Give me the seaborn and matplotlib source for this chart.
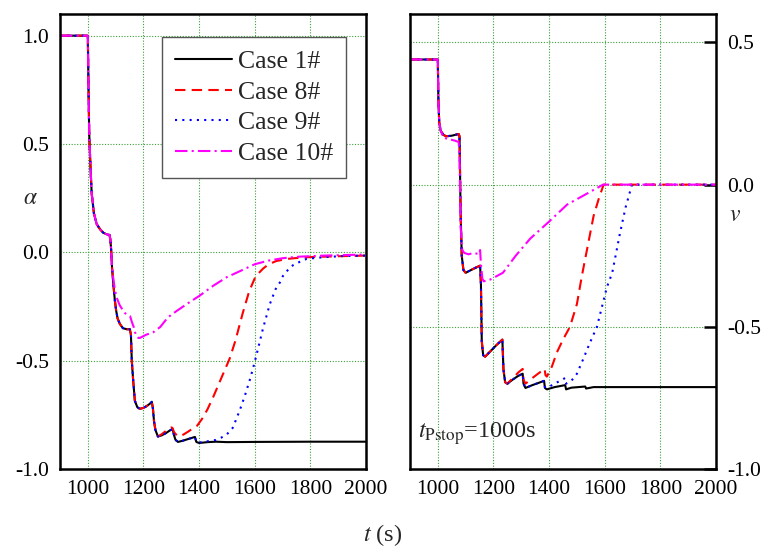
import matplotlib
matplotlib.use("Agg")
import matplotlib.pyplot as plt
import seaborn as sns
import pandas as pd

# ---- time axis and case data -------------------------------------------------
# alpha(t), left panel
t_a1 = [900, 1000, 1002, 1005, 1010, 1014, 1022, 1032, 1045, 1056, 1068, 1078,
        1081, 1084, 1087, 1092, 1097, 1102, 1107, 1115, 1126, 1140, 1151,
        1155, 1158, 1163, 1169, 1178, 1187, 1200, 1211, 1222, 1230,
        1234, 1238, 1243, 1252, 1265, 1280, 1295, 1305,
        1309, 1315, 1324, 1340, 1360, 1385,
        1390, 1400, 1430, 1460, 1500, 1600, 1800, 2000]
a_case1 = [1.0, 1.0, 0.80, 0.55, 0.38, 0.27, 0.18, 0.13, 0.105, 0.09, 0.083, 0.08,
           0.06, 0.01, -0.07, -0.15, -0.22, -0.27, -0.305, -0.33, -0.35, -0.355, -0.355,
           -0.38, -0.50, -0.59, -0.685, -0.715, -0.722, -0.718, -0.71, -0.70, -0.69,
           -0.72, -0.78, -0.82, -0.85, -0.845, -0.835, -0.822, -0.815,
           -0.84, -0.865, -0.875, -0.87, -0.862, -0.852,
           -0.875, -0.88, -0.876, -0.874, -0.876, -0.875, -0.874, -0.874]

t_a8 = [1252, 1265, 1280, 1290, 1300, 1304, 1310, 1320, 1330, 1345, 1360, 1375, 1393,
        1410, 1430, 1450, 1470, 1490, 1510, 1530, 1557, 1580, 1600, 1615, 1630,
        1650, 1678, 1720, 1760, 1800, 1900, 2000]
a_case8 = [-0.85, -0.84, -0.825, -0.815, -0.808, -0.81, -0.83, -0.845, -0.85, -0.84,
           -0.828, -0.815, -0.80, -0.77, -0.725, -0.67, -0.61, -0.55, -0.49, -0.41,
           -0.28, -0.18, -0.12, -0.095, -0.075, -0.055, -0.04, -0.03, -0.025, -0.022,
           -0.018, -0.015]

t_a9 = [1390, 1400, 1430, 1460, 1480, 1500, 1521, 1546, 1565, 1582, 1595, 1607,
        1630, 1654, 1675, 1690, 1701, 1720, 1737, 1760, 1787, 1850, 1920, 2000]
a_case9 = [-0.875, -0.878, -0.872, -0.866, -0.855, -0.84, -0.81, -0.73, -0.66,
           -0.59, -0.53, -0.47, -0.35, -0.24, -0.17, -0.14, -0.11, -0.08, -0.06,
           -0.045, -0.03, -0.022, -0.017, -0.015]

t_a10 = [1087, 1091, 1097, 1102, 1107, 1115, 1125, 1133, 1145, 1152,
         1158, 1165, 1170, 1176, 1182, 1187, 1195, 1210, 1234, 1260, 1288, 1320,
         1360, 1402, 1450, 1499, 1550, 1600, 1650, 1701, 1760, 1850, 2000]
a_case10 = [-0.07, -0.115, -0.17, -0.20, -0.22, -0.245, -0.265, -0.28, -0.29, -0.295,
            -0.32, -0.345, -0.37, -0.39, -0.395, -0.395, -0.39, -0.38, -0.37, -0.345,
            -0.30, -0.27, -0.235, -0.20, -0.155, -0.115, -0.085, -0.055, -0.038,
            -0.027, -0.02, -0.015, -0.01]

# v(t), right panel
t_v1 = [900, 1000, 1002, 1005, 1010, 1020, 1030, 1050, 1075,
        1078, 1082, 1086, 1092, 1100, 1110, 1130, 1152,
        1155, 1158, 1163, 1170, 1190, 1210, 1232,
        1236, 1242, 1250, 1270, 1290, 1305,
        1308, 1315, 1340, 1360, 1382,
        1385, 1392, 1420, 1458, 1461, 1480, 1530, 1533, 1560, 1600, 1800, 2000]
v_case1 = [0.44, 0.44, 0.30, 0.22, 0.19, 0.175, 0.17, 0.172, 0.178,
           0.17, -0.10, -0.25, -0.30, -0.31, -0.305, -0.295, -0.285,
           -0.35, -0.55, -0.60, -0.605, -0.585, -0.565, -0.545,
           -0.65, -0.695, -0.70, -0.685, -0.672, -0.665,
           -0.70, -0.715, -0.705, -0.698, -0.69,
           -0.715, -0.72, -0.712, -0.705, -0.72, -0.714, -0.71, -0.717, -0.712,
           -0.712, -0.712, -0.712]

t_v8 = [1242, 1250, 1270, 1290, 1305, 1308, 1315, 1340, 1360, 1384,
        1387, 1392, 1410, 1428, 1450, 1475, 1500, 1518, 1540, 1560, 1580, 1596, 2000]
v_case8 = [-0.695, -0.70, -0.68, -0.66, -0.648, -0.685, -0.70, -0.68, -0.665, -0.648,
           -0.67, -0.675, -0.64, -0.59, -0.545, -0.50, -0.42, -0.32, -0.21, -0.11,
           -0.045, 0.0, 0.0]

t_v9 = [1385, 1392, 1420, 1458, 1461, 1480, 1500, 1522, 1545, 1572, 1590, 1608,
        1627, 1655, 1675, 1698, 2000]
v_case9 = [-0.712, -0.715, -0.70, -0.68, -0.70, -0.69, -0.665, -0.615, -0.56,
           -0.50, -0.43, -0.36, -0.31, -0.17, -0.08, 0.0, 0.0]

t_v10 = [900, 1000, 1002, 1005, 1010, 1020, 1040, 1060, 1075,
         1078, 1082, 1088, 1095, 1110, 1130, 1148, 1152,
         1155, 1160, 1165, 1188, 1234, 1280, 1332, 1400, 1465, 1530, 1594, 2000]
v_case10 = [0.44, 0.44, 0.30, 0.22, 0.19, 0.165, 0.16, 0.155, 0.15,
            0.10, -0.15, -0.23, -0.24, -0.245, -0.24, -0.245, -0.23,
            -0.28, -0.33, -0.34, -0.334, -0.31, -0.25, -0.19, -0.13, -0.07,
            -0.035, 0.0, 0.0]

case_labels = ["Case 1#", "Case 8#", "Case 9#", "Case 10#"]
case_colors = ["black", "red", "blue", "magenta"]
case_styles = ["-", (0, (5, 3)), (0, (1, 2.5)), (0, (6, 2, 1, 2))]

x_ticks = [1000, 1200, 1400, 1600, 1800, 2000]


def assemble(t_base, y_base, t_tail, y_tail):
    """Base curve up to the first tail time, followed by the tail."""
    t = [x for x in t_base if x < t_tail[0]] + list(t_tail)
    y = [v for x, v in zip(t_base, y_base) if x < t_tail[0]] + list(y_tail)
    return t, y


# ---- styling ----------------------------------------------------------------
sns.set_theme(style="white")
plt.rcParams["font.family"] = ["Liberation Serif", "DejaVu Serif"]
plt.rcParams["mathtext.fontset"] = "stix"

fig = plt.figure(figsize=(7.66, 5.49), dpi=100)
ax_l = fig.add_axes([60 / 766, 80 / 549, 306 / 766, 455 / 549])
ax_r = fig.add_axes([410 / 766, 80 / 549, 306 / 766, 455 / 549])

alpha_curves = [
    (t_a1, a_case1),
    assemble(t_a1, a_case1, t_a8, a_case8),
    assemble(t_a1, a_case1, t_a9, a_case9),
    assemble(t_a1, a_case1, t_a10, a_case10),
]
v_curves = [
    (t_v1, v_case1),
    assemble(t_v1, v_case1, t_v8, v_case8),
    assemble(t_v1, v_case1, t_v9, v_case9),
    (t_v10, v_case10),
]

for ax, curves in ((ax_l, alpha_curves), (ax_r, v_curves)):
    for (t, y), lab, col, ls in zip(curves, case_labels, case_colors, case_styles):
        df = pd.DataFrame({"t": t, "y": y})
        sns.lineplot(data=df, x="t", y="y", ax=ax, color=col, linestyle=ls,
                     linewidth=1.5, estimator=None, sort=False, label=lab,
                     legend=False)

for ax in (ax_l, ax_r):
    ax.set_xlim(900, 2000)
    ax.set_xticks(x_ticks)
    ax.set_xlabel("")
    ax.set_ylabel("")
    ax.grid(True, color="#3aa03a", linestyle=(0, (1, 1.5)), linewidth=0.8)
    for s in ax.spines.values():
        s.set_color("black")
        s.set_linewidth(1.8)
    ax.tick_params(direction="in", length=9, width=1.8, labelsize=15.5,
                   colors="black", pad=8)

ax_l.set_ylim(-1.0, 1.1)
ax_l.set_yticks([-1.0, -0.5, 0.0, 0.5, 1.0])
ax_l.set_yticklabels(["-1.0", "-0.5", "0.0", "0.5", "1.0"])

ax_r.set_ylim(-1.0, 0.6)
ax_r.set_yticks([-1.0, -0.5, 0.0, 0.5])
ax_r.set_yticklabels(["-1.0", "-0.5", "0.0", "0.5"])
ax_r.yaxis.tick_right()
ax_r.tick_params(axis="y", direction="in", length=9, width=1.8)

ax_l.legend(loc="upper right", bbox_to_anchor=(0.935, 0.949), borderaxespad=0,
            fontsize=18.5, handlelength=2.2, handletextpad=0.25,
            labelspacing=0.3, fancybox=False, framealpha=1,
            edgecolor="#555555", borderpad=0.5)

fig.text(30 / 766, 1 - 198 / 549, r"$\alpha$", fontsize=17, ha="center",
         va="center")
fig.text(735 / 766, 1 - 215 / 549, r"$v$", fontsize=17, ha="center",
         va="center")
fig.text(383 / 766, 1 - 535 / 549, r"$t$ (s)", fontsize=17.5, ha="center",
         va="center")
ax_r.text(0.025, 0.068, r"$t_{\mathrm{Pstop}}$=1000s", transform=ax_r.transAxes,
          fontsize=17.5, ha="left", va="baseline")

fig.savefig("out.png", dpi=100)
